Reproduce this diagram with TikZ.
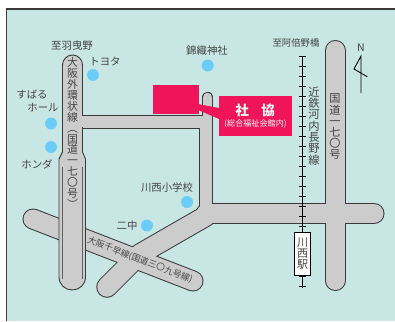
\documentclass[tikz,border=0pt]{standalone}
\usepackage{fontspec}
\setmainfont{Noto Sans CJK JP}
\definecolor{mapbg}{HTML}{C8E6E3}
\definecolor{roadgray}{HTML}{CCCCCC}
\definecolor{edgedark}{HTML}{3A3A3A}
\definecolor{dotblue}{HTML}{6BCDF7}
\definecolor{signred}{HTML}{F0155A}
\definecolor{textgray}{HTML}{444444}
\newcommand{\jfont}[1]{\fontsize{#1}{#1}\selectfont\lineskiplimit=-100pt\relax}
\tikzset{
  x=1pt,y=-1pt,
  label text/.style={text=textgray,inner sep=0pt,font=\jfont{10.4}},
  vtext/.style={text=textgray,inner sep=0pt,align=center},
  spot/.style={circle,fill=dotblue,minimum size=12pt,inner sep=0pt},
  road edge/.style={draw=edgedark,line width=#1+2pt,line cap=round,line join=round},
  road body/.style={draw=roadgray,line width=#1,line cap=round,line join=round},
  road flat edge/.style={draw=edgedark,line width=#1+2pt,line cap=butt},
  road flat body/.style={draw=roadgray,line width=#1,line cap=butt},
}
\begin{document}
\begin{tikzpicture}
\useasboundingbox (0,0) rectangle (395,321);
\fill[white] (0,0) rectangle (395,321);
\fill[mapbg] (6.5,9) rectangle (395,321);
\draw[edgedark,line width=1.4pt] (6.5,321) -- (6.5,9) -- (395,9);

% road outlines
\draw[road edge=19pt] (335.2,50.5) -- (335.2,280.5);
\draw[road edge=19pt] (206,213.5) -- (374,213.5);
\draw[road edge=19pt] (33,219) -- (193,281);
\draw[road edge=19.5pt] (206,216) -- (140,254) -- (107,287);
\draw[road edge=9.5pt] (207.6,97.5) -- (207.6,125);
\draw[road flat edge=12pt] (80,121.5) -- (207.6,121.5);
\draw[road flat edge=12pt] (206.25,121.5) -- (206.25,213.5);
% road bodies
\draw[road body=19pt] (335.2,50.5) -- (335.2,280.5);
\draw[road body=19pt] (206,213.5) -- (374,213.5);
\draw[road body=19pt] (33,219) -- (193,281);
\draw[road body=19.5pt] (206,216) -- (140,254) -- (107,287);
\draw[road body=9.5pt] (207.6,97.5) -- (207.6,125);
\draw[road flat body=12pt] (80,121.5) -- (207.6,121.5);
\draw[road flat body=12pt] (206.25,121.5) -- (206.25,213.5);

% left main road
\draw[edgedark,fill=roadgray,line width=.9pt]
  (62.5,65) .. controls (62.5,59.5) and (67,55) .. (72.5,55)
  .. controls (78,55) and (82.5,59.5) .. (82.5,65)
  -- (82.5,152) -- (85.5,159) -- (85.5,277)
  .. controls (85.5,284.5) and (79.5,290) .. (72.25,290)
  .. controls (65,290) and (59,284.5) .. (59,277)
  -- (59,159) -- (62.5,152) -- cycle;
\fill[roadgray] (81,115.6) rectangle (84,127.4);
\draw[edgedark!80,line width=.8pt] (62.7,167) -- (62.7,279);
\draw[edgedark!80,line width=.8pt] (82.5,167) -- (82.5,279);

% building and sign
\fill[signred] (153,85) rectangle (199,114);
\fill[signred] (198,104) -- (219,108) -- (219,119) -- (198,110) -- cycle;
\fill[signred] (219,96) rectangle (292,136);
\node[text=white,inner sep=0pt,font=\jfont{13.5}\bfseries] (kyo1) at (242,110) {社};
\node[text=white,inner sep=0pt,font=\jfont{13.5}\bfseries] (kyo2) at (268,110) {協};
\node[text=white,inner sep=0pt,font=\jfont{8.1}] (kaikan) at (255.5,124) {(総合福祉会館内)};

% railway
\draw[black,line width=1pt] (302.3,56.5) -- (302.3,288);
\foreach \k in {0,...,23}{
  \draw[black,line width=.9pt] (298.8,56.7+10*\k) -- (305.8,56.7+10*\k);
}
\draw[black,fill=white,line width=1pt] (294,232) rectangle (310.7,275.7);
\node[vtext,font=\jfont{11}] (station) at (302.5,254) {川\\西\\駅};

% spots
\node[spot] (s1) at (93,75) {};
\node[spot] (s2) at (207.7,65.5) {};
\node[spot] (s3) at (51,123.5) {};
\node[spot] (s4) at (51,147) {};
\node[spot] (s5) at (187,202) {};
\node[spot] (s6) at (147,225.5) {};

% labels
\node[label text] (t1) at (72,46) {至羽曳野};
\node[label text] (t2) at (105,61) {トヨタ};
\node[label text] (t3) at (32,95) {すばる};
\node[label text] (t4) at (43,108) {ホール};
\node[label text] (t5) at (37,164) {ホンダ};
\node[label text] (t6) at (207,51) {錦織神社};
\node[label text,font=\jfont{9.4}] (t7) at (296,43) {至阿倍野橋};
\node[label text] (t8) at (167,188) {川西小学校};
\node[label text] (t9) at (127,226) {二中};

% vertical road names
\node[vtext,font=\jfont{10.9}] (v1) at (72.5,133) {大\\阪\\外\\環\\状\\線\\︵\\国\\道\\一\\七\\〇\\号\\︶};
\node[vtext,font=\jfont{11.2}] (v2) at (335,127) {国\\道\\一\\七\\〇\\号};
\node[vtext,font=\jfont{11.3}] (v3) at (314,126) {近\\鉄\\河\\内\\長\\野\\線};
\node[text=textgray,inner sep=0pt,font=\jfont{8.8},rotate=-21] (v4) at (140,260) {大阪千早線(国道三〇九号線)};

% north mark
\draw[black,line width=.9pt] (361,93) -- (361,56) -- (354,69) -- (367.3,76.7);
\node[text=textgray,inner sep=0pt,font=\jfont{10.5}] (north) at (361,47.5) {N};
\end{tikzpicture}
\end{document}
